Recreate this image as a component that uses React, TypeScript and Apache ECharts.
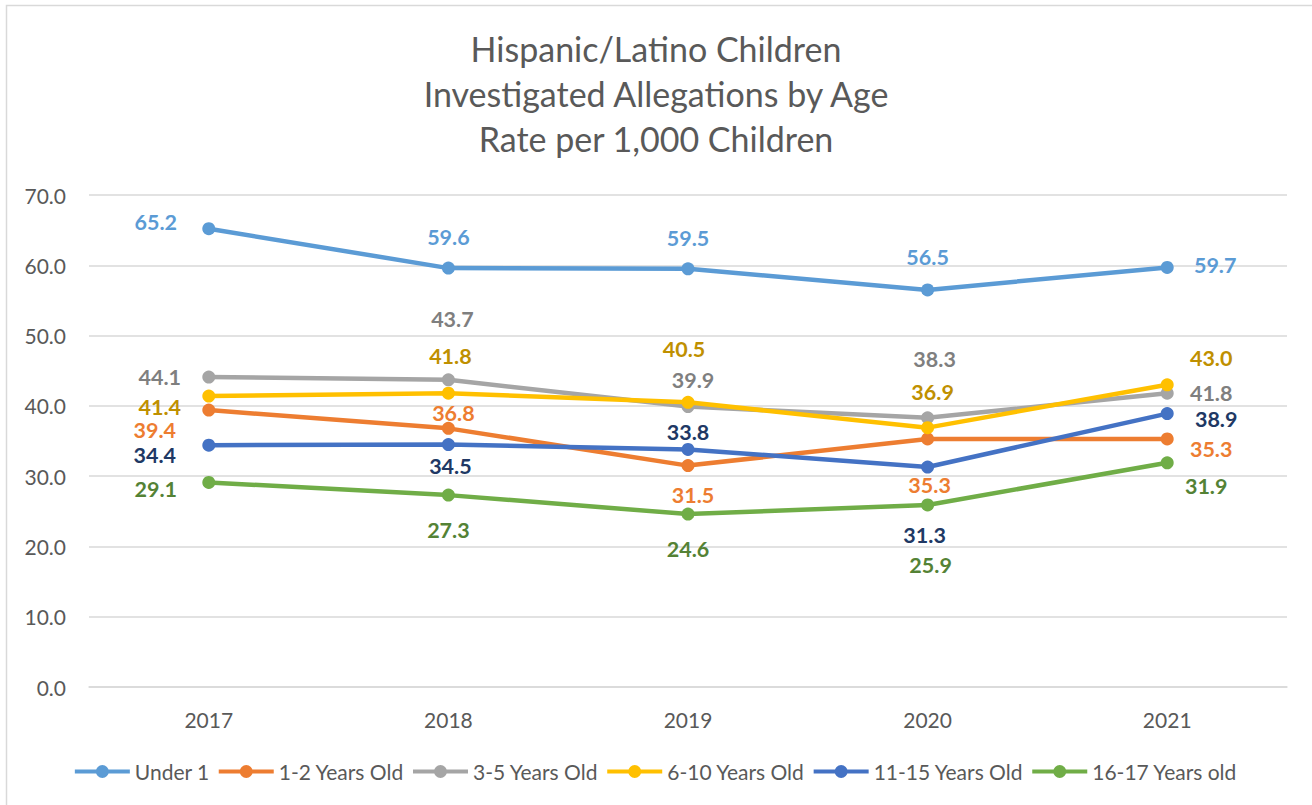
import React, { useEffect, useRef } from "react";
import * as echarts from "echarts";

const years = ["2017", "2018", "2019", "2020", "2021"];
const seriesNames = ["Under 1", "1-2 Years Old", "3-5 Years Old", "6-10 Years Old", "11-15 Years Old", "16-17 Years old"];
const under1 = [65.2, 59.6, 59.5, 56.5, 59.7];
const age1to2 = [39.4, 36.8, 31.5, 35.3, 35.3];
const age3to5 = [44.1, 43.7, 39.9, 38.3, 41.8];
const age6to10 = [41.4, 41.8, 40.5, 36.9, 43.0];
const age11to15 = [34.4, 34.5, 33.8, 31.3, 38.9];
const age16to17 = [29.1, 27.3, 24.6, 25.9, 31.9];
const yTicks = [0, 10, 20, 30, 40, 50, 60, 70];

const lineColors = ["#5B9BD5", "#ED7D31", "#A5A5A5", "#FFC000", "#4472C4", "#70AD47"];
const labelColors = ["#5B9BD5", "#ED7D31", "#7F7F7F", "#BF9000", "#203864", "#548235"];
const labelOffsets: number[][][] = [
  [[-53, -7], [0, -31], [0, -31], [0, -33], [48, -2]],
  [[-54, 20], [5, -15], [5, 29], [2, 46], [44, 10]],
  [[-49, 0], [4, -61], [5, -27], [7, -59], [44, 0]],
  [[-49, 11], [2, -37], [-4, -53], [5, -36], [44, -27]],
  [[-54, 10], [2, 21], [0, -17], [-3, 68], [49, 5]],
  [[-53, 7], [0, 35], [0, 35], [3, 60], [39, 23]],
];

const FONT = "Lato, 'Noto Sans', sans-serif";
const LEGEND_ICON =
  "path://M0,4.5 L55,4.5 L55,8.5 L0,8.5 Z M21,6.5 A6.5,6.5 0 1,1 34,6.5 A6.5,6.5 0 1,1 21,6.5 Z";

export default function App() {
  const ref = useRef<HTMLDivElement>(null);
  useEffect(() => {
    if (!ref.current) return;
    const chart = echarts.init(ref.current, null, { renderer: "svg" });
    const allData = [under1, age1to2, age3to5, age6to10, age11to15, age16to17];
    const series = allData.map((vals, si) => ({
      name: seriesNames[si],
      type: "line",
      data: vals.map((v, i) => ({ value: v, label: { offset: labelOffsets[si][i] } })),
      symbol: "circle",
      symbolSize: 13,
      itemStyle: { color: lineColors[si] },
      lineStyle: { color: lineColors[si], width: 4.5 },
      label: {
        show: true,
        position: "inside",
        align: "center",
        verticalAlign: "middle",
        color: labelColors[si],
        fontFamily: FONT,
        fontWeight: "bold",
        fontSize: 21.5,
        lineHeight: 18,
        formatter: (p: any) => Number(p.value).toFixed(1),
      },
      emphasis: { disabled: true },
      z: 2 + si,
    }));
    chart.setOption({
      animation: false,
      backgroundColor: "#ffffff",
      title: {
        text: "Hispanic/Latino Children\nInvestigated Allegations by Age\nRate per 1,000 Children",
        left: "center",
        top: 21,
        textStyle: {
          fontFamily: FONT,
          fontWeight: "normal",
          fontSize: 34,
          lineHeight: 45,
          color: "#595959",
        },
      },
      graphic: [
        {
          type: "rect",
          shape: { x: 6.5, y: 5.5, width: 1400, height: 900 },
          style: { fill: "none", stroke: "#D9D9D9", lineWidth: 1.5 },
          silent: true,
        },
      ],
      grid: { left: 89, right: 25, top: 195, bottom: 118 },
      xAxis: {
        type: "category",
        data: years,
        boundaryGap: true,
        axisLine: { lineStyle: { color: "#D9D9D9", width: 1.5 } },
        axisTick: { show: false },
        axisLabel: { color: "#595959", fontFamily: FONT, fontSize: 21, margin: 22 },
      },
      yAxis: {
        type: "value",
        min: yTicks[0],
        max: yTicks[yTicks.length - 1],
        interval: 10,
        axisLine: { show: false },
        axisTick: { show: false },
        splitLine: { lineStyle: { color: "#D9D9D9", width: 1.5 } },
        axisLabel: {
          color: "#595959",
          fontFamily: FONT,
          fontSize: 21,
          margin: 23,
          formatter: (v: number) => v.toFixed(1),
        },
      },
      legend: {
        data: seriesNames.map((n) => ({ name: n, icon: LEGEND_ICON })),
        bottom: 18,
        left: "center",
        itemWidth: 55,
        itemHeight: 13,
        itemGap: 9,
        textStyle: { color: "#595959", fontFamily: FONT, fontSize: 21 },
      },
      series,
    });
    return () => chart.dispose();
  }, []);
  return (
    <div
      ref={ref}
      style={{ position: "fixed", left: 0, top: 0, width: 1312, height: 805, background: "#fff" }}
    />
  );
}
